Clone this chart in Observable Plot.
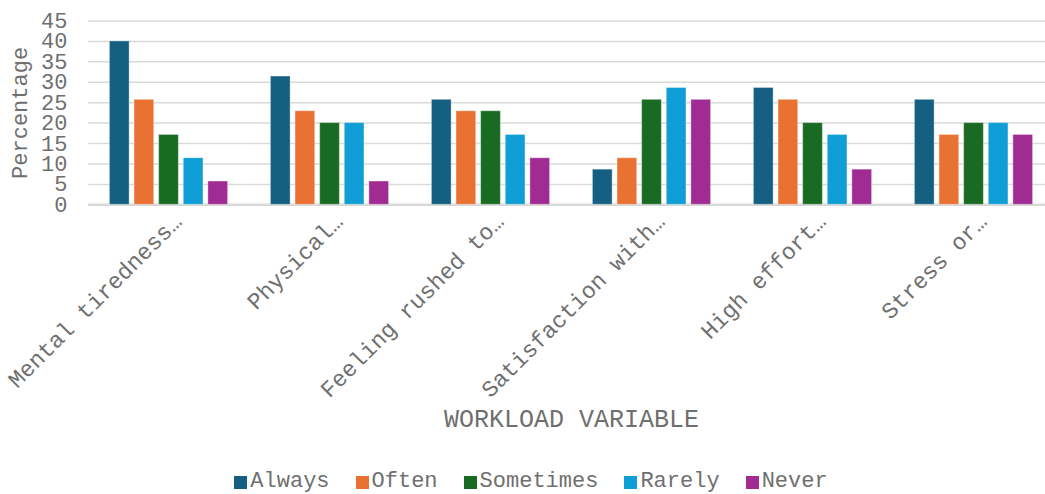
<!DOCTYPE html>
<html><head><meta charset="utf-8">
<script src="https://cdn.jsdelivr.net/npm/d3@7"></script>
<script src="https://cdn.jsdelivr.net/npm/@observablehq/plot@0.6"></script>
<style>
html,body{margin:0;padding:0;background:#fff;overflow:hidden;}
body{width:1045px;height:494px;font-family:"Liberation Mono",monospace;color:#6f6f6f;}
#legend{display:flex;justify-content:center;align-items:center;height:24px;line-height:24px;font-size:22px;padding-left:17px;box-sizing:border-box;width:1045px;}
#legend .item{display:flex;align-items:center;margin:0 13px;}
#legend .sw{width:13px;height:13px;margin-right:3px;display:inline-block;}
</style></head><body>
<div id="chart"></div>
<div id="legend"></div>
<script>
const categories = ["Mental tiredness…", "Physical…", "Feeling rushed to…", "Satisfaction with…", "High effort…", "Stress or…"];
const seriesNames = ["Always", "Often", "Sometimes", "Rarely", "Never"];
const always    = [40.0, 31.4, 25.7,  8.6, 28.6, 25.7];
const often     = [25.7, 22.9, 22.9, 11.4, 25.7, 17.1];
const sometimes = [17.1, 20.0, 22.9, 25.7, 20.0, 20.0];
const rarely    = [11.4, 20.0, 17.1, 28.6, 17.1, 20.0];
const never     = [ 5.7,  5.7, 11.4, 25.7,  8.6, 17.1];
const seriesColors = ["#156082", "#E97132", "#196B24", "#0F9ED5", "#A02B93"];
const yTicks = [0, 5, 10, 15, 20, 25, 30, 35, 40, 45];
const yTitle = "Percentage";
const xTitle = "WORKLOAD VARIABLE";

const seriesValues = [always, often, sometimes, rarely, never];
const rows = [];
categories.forEach((c, i) => {
  seriesNames.forEach((s, j) => rows.push({category: c, series: s, value: seriesValues[j][i]}));
});

const H = 470;
const chart = Plot.plot({
  width: 1045,
  height: H,
  marginLeft: 87.5,
  marginRight: -8.5,
  marginTop: 20.5,
  marginBottom: H - 204.3,
  style: {fontFamily: "Liberation Mono", color: "#6f6f6f", background: "#fff"},
  fx: {domain: categories, padding: 0},
  x: {domain: seriesNames, paddingInner: 0.2, paddingOuter: 0.87, round: false, axis: null},
  y: {domain: [0, 45]},
  color: {domain: seriesNames, range: seriesColors},
  marks: [
    Plot.gridY(yTicks, {stroke: "#d9d9d9", strokeOpacity: 1, strokeWidth: 1.5}),
    Plot.ruleY([0], {stroke: "#d9d9d9", strokeWidth: 2.5}),
    Plot.barY(rows, {fx: "category", x: "series", y: "value", fill: "series", stroke: "white", strokeOpacity: 0.35, strokeWidth: 1}),
    Plot.axisY(yTicks, {tickSize: 0, tickPadding: 21, fontSize: 22, label: yTitle, labelAnchor: "center", labelArrow: "none", labelOffset: 77}),
    Plot.axisFx({anchor: "bottom", tickSize: 0, tickPadding: 13, tickRotate: -45, dx: 9, fontSize: 23, label: null}),
    Plot.axisFx({anchor: "bottom", tickSize: 0, tickFormat: () => "", fontSize: 25, label: xTitle, labelAnchor: "center", labelArrow: "none", labelOffset: 222})
  ]
});
document.getElementById("chart").appendChild(chart);

const legend = document.getElementById("legend");
seriesNames.forEach((s, i) => {
  const item = document.createElement("span");
  item.className = "item";
  const sw = document.createElement("span");
  sw.className = "sw";
  sw.style.background = seriesColors[i];
  item.appendChild(sw);
  item.appendChild(document.createTextNode(s));
  legend.appendChild(item);
});
</script>
</body></html>
